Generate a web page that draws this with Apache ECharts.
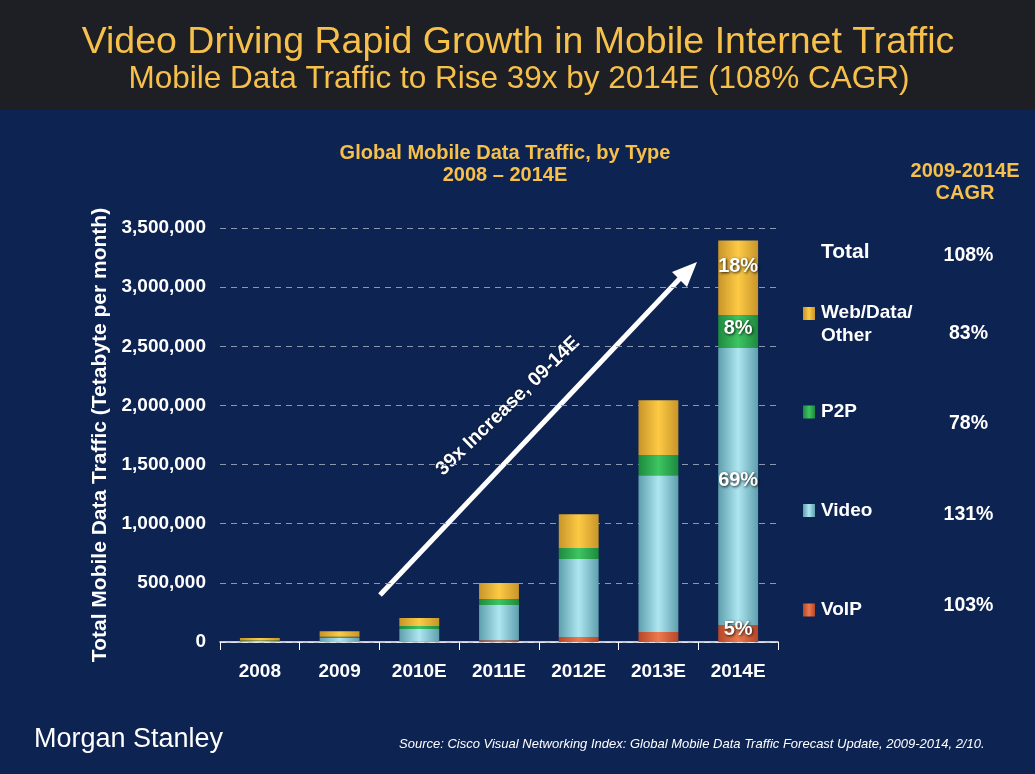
<!DOCTYPE html>
<html><head><meta charset="utf-8">
<script src="https://cdn.jsdelivr.net/npm/echarts@6/dist/echarts.min.js"></script>
<style>html,body{margin:0;padding:0;background:#0d2352;}#c{width:1035px;height:774px;}</style>
</head><body><div id="c"></div>
<script>
const categories = ['2008','2009','2010E','2011E','2012E','2013E','2014E'];
const voip  = [1000, 2000, 5000, 15000, 42000, 85000, 144000];
const video = [7000, 33000, 105000, 297000, 659000, 1325000, 2342000];
const p2p   = [5000, 10000, 25000, 51000, 93000, 169000, 276000];
const web   = [20000, 45000, 68000, 135000, 287000, 465000, 633000];
const pct2014 = ['5%', '69%', '8%', '18%'];
const seriesNames = ['VoIP', 'Video', 'P2P', 'Web/Data/\nOther'];
const cagrLabels = ['Total', 'Web/Data/\nOther', 'P2P', 'Video', 'VoIP'];
const cagrValues = ['108%', '83%', '78%', '131%', '103%'];
const titleText = 'Video Driving Rapid Growth in Mobile Internet Traffic';
const subtitleText = 'Mobile Data Traffic to Rise 39x by 2014E (108% CAGR)';
const chartTitle = 'Global Mobile Data Traffic, by Type\n2008 \u2013 2014E';
const cagrHeader = '2009-2014E\nCAGR';
const yName = 'Total Mobile Data Traffic (Tetabyte per month)';
const arrowText = '39x Increase, 09-14E';
const sourceText = 'Source: Cisco Visual Networking Index: Global Mobile Data Traffic Forecast Update, 2009-2014, 2/10.';

const FONT = '"Liberation Sans", Arial, sans-serif';
const GOLD = '#f6c04a';

function grad(edge, mid) {
  return new echarts.graphic.LinearGradient(0, 0, 1, 0, [
    {offset: 0, color: edge}, {offset: 0.5, color: mid}, {offset: 1, color: edge}
  ]);
}
const colors = [
  grad('#b5472a', '#ec7a4c'),
  grad('#5f9fae', '#aee6f0'),
  grad('#1d8a3e', '#3ec562'),
  grad('#c8952a', '#fdca45')
];
const dataSets = [voip, video, p2p, web];
const labelOffsets = [[0, -4], [0, -6], [0, -3], [0, 0]];

const chart = echarts.init(document.getElementById('c'), null, {renderer: 'canvas'});

const series = dataSets.map((d, i) => ({
  name: seriesNames[i],
  type: 'bar',
  stack: 'total',
  barWidth: '50%',
  data: d,
  itemStyle: {color: colors[i]},
  label: {
    show: true,
    position: i === 3 ? 'insideTop' : 'inside',
    distance: 16,
    offset: labelOffsets[i],
    color: '#fff',
    fontFamily: FONT,
    fontWeight: 'bold',
    fontSize: 20,
    textShadowColor: 'rgba(0,0,0,0.85)',
    textShadowBlur: 3,
    textShadowOffsetX: 1,
    textShadowOffsetY: 1,
    formatter: p => p.dataIndex === categories.length - 1 ? pct2014[i] : ''
  }
}));

const legendY = [252, 313.5, 412, 510.5, 610];
const cagrY = [256, 334, 424, 514.5, 606];
const legendSize = [21, 19, 19, 19, 19];
const graphics = [
  {type: 'rect', shape: {x: 0, y: 0, width: 1035, height: 110}, style: {fill: '#1d1f24'}, z: 0},
  {type: 'text', style: {text: titleText, x: 518, y: 43, align: 'center', verticalAlign: 'middle', fill: GOLD, font: '37.5px ' + FONT}},
  {type: 'text', style: {text: subtitleText, x: 519, y: 79, align: 'center', verticalAlign: 'middle', fill: GOLD, font: '31.5px ' + FONT}},
  {type: 'text', style: {text: chartTitle, x: 505, y: 164, align: 'center', verticalAlign: 'middle', fill: GOLD, font: 'bold 20px ' + FONT, lineHeight: 22}},
  {type: 'text', style: {text: cagrHeader, x: 965, y: 182, align: 'center', verticalAlign: 'middle', fill: GOLD, font: 'bold 20px ' + FONT, lineHeight: 22}},
  {type: 'text', style: {text: 'Morgan Stanley', x: 34, y: 740, verticalAlign: 'middle', fill: '#fff', font: '27px ' + FONT}},
  {type: 'text', style: {text: sourceText, x: 399, y: 744, verticalAlign: 'middle', fill: '#fff', font: 'italic 13px ' + FONT}},
  {type: 'line', shape: {x1: 380, y1: 595, x2: 686, y2: 272}, style: {stroke: '#fff', lineWidth: 5}},
  {type: 'polygon', shape: {points: [[697, 262], [672, 272], [687, 287]]}, style: {fill: '#fff'}},
  {type: 'text', rotation: Math.PI / 180 * 44, x: 508, y: 406, style: {text: arrowText, align: 'center', verticalAlign: 'middle', fill: '#fff', font: 'bold 19.5px ' + FONT, textShadowColor: 'rgba(0,0,0,0.6)', textShadowBlur: 2}}
];
cagrLabels.forEach((t, i) => {
  graphics.push({type: 'text', style: {text: t, x: 821, y: i === 1 ? 324.5 : legendY[i], verticalAlign: 'middle', fill: '#fff', font: 'bold ' + legendSize[i] + 'px ' + FONT, lineHeight: 22.5}});
  graphics.push({type: 'text', style: {text: cagrValues[i], x: 968.5, y: cagrY[i], align: 'center', verticalAlign: 'middle', fill: '#fff', font: 'bold 19.5px ' + FONT}});
  if (i > 0) {
    graphics.push({type: 'rect', shape: {x: 803, y: legendY[i] - 6.5, width: 12, height: 13}, style: {fill: colors[4 - i]}});
  }
});

chart.setOption({
  backgroundColor: '#0d2352',
  animation: false,
  grid: {left: 220, right: 257, top: 228, bottom: 132},
  xAxis: {
    type: 'category',
    data: categories,
    axisLine: {lineStyle: {color: '#fff', width: 1.5}},
    axisTick: {show: true, length: 8, lineStyle: {color: '#fff'}},
    axisLabel: {color: '#fff', fontFamily: FONT, fontWeight: 'bold', fontSize: 19, margin: 20}
  },
  yAxis: {
    type: 'value',
    min: 0, max: 3500000, interval: 500000,
    name: yName,
    nameLocation: 'middle',
    nameGap: 108,
    nameTextStyle: {color: '#fff', fontFamily: FONT, fontWeight: 'bold', fontSize: 21},
    axisLine: {show: false},
    axisTick: {show: false},
    axisLabel: {color: '#fff', fontFamily: FONT, fontWeight: 'bold', fontSize: 19, margin: 14,
      formatter: v => v.toLocaleString('en-US')},
    splitLine: {lineStyle: {color: '#8d97ad', type: [6, 5], width: 1}}
  },
  series: series,
  graphic: graphics
});
</script>
</body></html>
